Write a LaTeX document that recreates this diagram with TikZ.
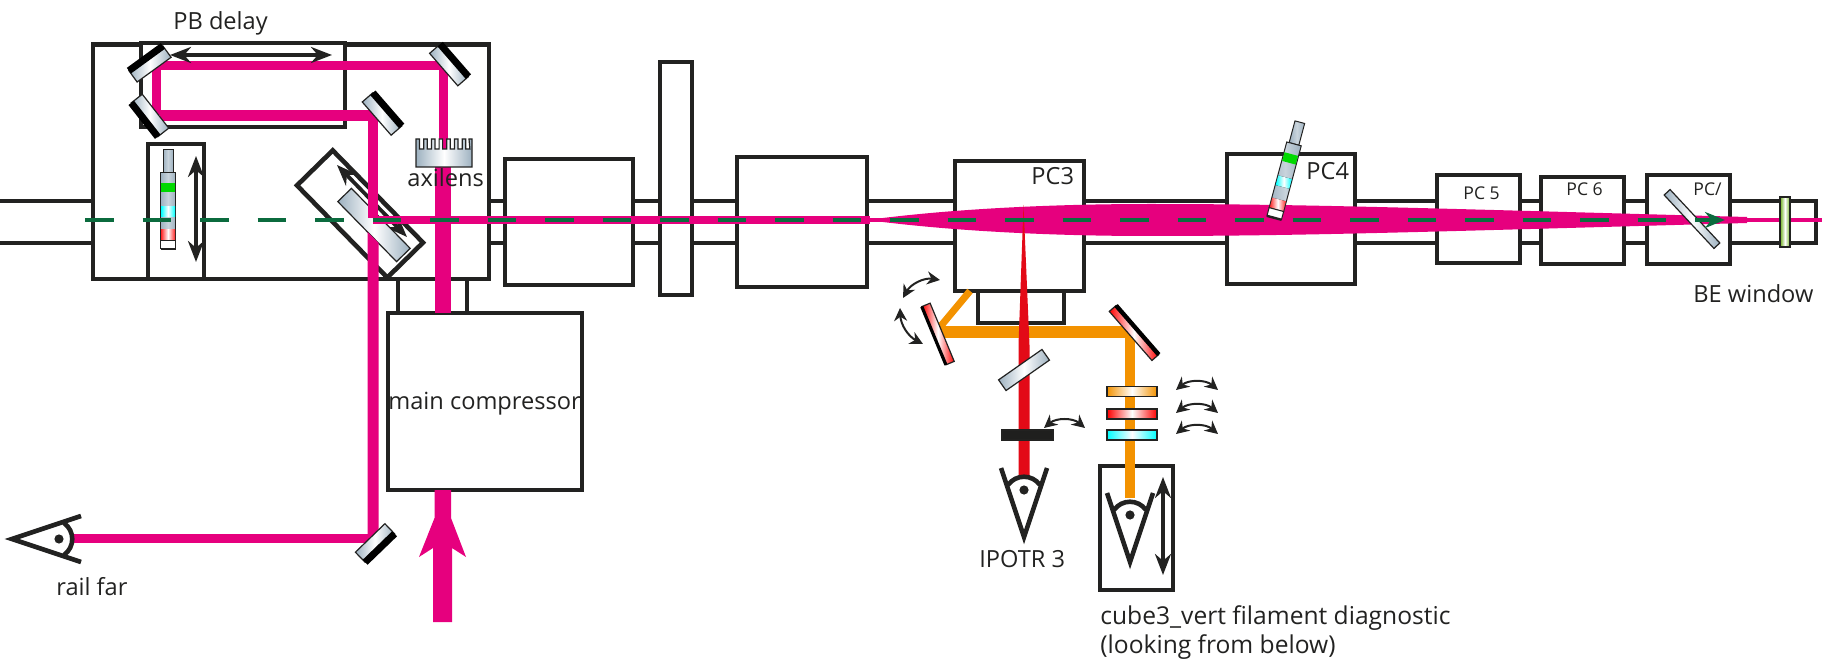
\documentclass[tikz,border=0pt]{standalone}
\usepackage{fontspec}
\setmainfont{Open Sans}
\usetikzlibrary{arrows.meta}
\definecolor{laserpink}{HTML}{E6007E}
\definecolor{laserred}{HTML}{E30A17}
\definecolor{laserorange}{HTML}{F39200}
\definecolor{railgreen}{HTML}{0B6B3E}
\definecolor{steel}{HTML}{9DB1C0}
\definecolor{inkdark}{HTML}{222221}
\definecolor{windowgreen}{HTML}{6FB01E}
\begin{document}
\begin{tikzpicture}[
                x=0.5pt, y=-0.5pt,
                wall/.style={draw=inkdark, line width=2.3pt, line join=miter},
                laser/.style={draw=laserpink, line width=#1},
                lbl/.style={anchor=base west, inner sep=0pt, text=inkdark, font=\fontsize{11.8pt}{15pt}\selectfont},
                smalllbl/.style={lbl, font=\fontsize{8.8pt}{11pt}\selectfont},
                widelbl/.style={lbl, font=\fontsize{12.3pt}{15pt}\selectfont},
                optic/.style={draw=inkdark, line width=0.6pt, inner sep=0pt, outer sep=0pt, left color=#1, right color=#1, middle color=white},
                rodpart/.style={draw=inkdark, line width=0.5pt, left color=#1, right color=#1, middle color=#1!55!white},
                shift arrow/.style={draw=inkdark, line width=1.9pt, {Stealth[length=10.5pt,width=8pt]}-{Stealth[length=10.5pt,width=8pt]}},
                swing/.style={draw=inkdark, line width=1pt, {Stealth[length=6.5pt,width=6.5pt]}-{Stealth[length=6.5pt,width=6.5pt]}},
                rod/.pic={
                    \draw[rodpart=steel] (-5,-49.5) rectangle (5,-27);
                    \draw[rodpart=steel] (-7.5,-27) rectangle (7.5,41);
                    \fill[green!85!black] (-7,-16.5) rectangle (7,-7.5);
                    \fill[left color=cyan, right color=cyan, middle color=white] (-7,7.5) rectangle (7,17.5);
                    \fill[left color=red!85!white, right color=red!85!white, middle color=white] (-7,30.5) rectangle (7,40.5);
                    \draw[rodpart=white] (-7.5,41) rectangle (7.5,49.5);
                    \draw[inkdark, line width=1.2pt] (-7.5,49.5) -- (7.5,49.5);
                },
                eye/.pic={
                    \draw[wall] (-23,-69) -- (0,0) -- (23,-69);
                    \draw[wall] (-16,-52) .. controls (-8,-63) and (8,-63) .. (16,-52);
                    \fill[inkdark] (0,-47) circle (2.3pt);
                }
            ]
            \useasboundingbox (0,0) rectangle (1822,663);
            % pipe
            \draw[wall] (0,201) -- (1816,201) -- (1816,243) -- (0,243);
            % chambers (x1/y1/x2/y2)
            \foreach \xa/\ya/\xb/\yb in {
            398/279/467/320,
            93/44.5/489/279,
            141/43/345/127,
            148/144/204/279,
            388/313/582/490,
            505/159/633/285,
            737/157/867/287,
            660/62/692/295,
            978/291/1064/323,
            955/161/1084/291,
            1227/154/1355/284,
            1437/175/1520/263,
            1541/177/1624/264,
            1647/175/1730/264,
            1100/466/1173/590}
            {
            \draw[wall, fill=white] (\xa,\ya) rectangle (\xb,\yb);
            }
            % beam splitter on its stage
            \node[draw=inkdark, line width=2.3pt, fill=white, minimum width=64.5pt, minimum height=25pt, rotate=-45.6] (stage) at (360,214) {};
            \draw[shift arrow] (337,165) -- (407,237);
            \node[optic=steel, minimum width=42pt, minimum height=9.5pt, rotate=-45.6] (splitter) at (374,225) {};
            % pink beams
            \draw[laser=4.2pt] (156.5,115) -- (156.5,65.5) -- (443.5,65.5) -- (443.5,167);
            \draw[laser=5.4pt] (160,115.5) -- (373,115.5) -- (373,218);
            \fill[laserpink] (367.7,232) -- (378.5,243) -- (378.5,543) -- (367.7,543) -- cycle;
            \draw[laser=4.3pt] (373,538.5) -- (72,538.5);
            \fill[laserpink] (435,167) rectangle (451,313);
            \draw[laser=3.6pt] (373,220) -- (870,220);
            \draw[laser=1.8pt] (870,220) -- (1822,220);
            \fill[laserpink] (867,220) .. controls (950,209) and (1050,204) .. (1150,204) .. controls (1300,204) and (1420,208) .. (1747,217)
                -- (1747,223) .. controls (1420,232) and (1300,236) .. (1150,236) .. controls (1050,236) and (950,231) .. (867,220) -- cycle;
            % incoming pulse
            \fill[laserpink] (433,622) -- (433,548) -- (419,557) -- (434.5,518) -- (434.5,490) -- (451,490) -- (451,518) -- (466,557) -- (452,548) -- (452,622) -- cycle;
            % diagnostic beams
            \draw[draw=laserorange, line width=3.5pt] (970,291) -- (940,327);
            \draw[draw=laserorange, line width=6pt] (940,332) -- (1130,332);
            \draw[draw=laserorange, line width=5.2pt] (1130,327) -- (1130,498);
            \fill[laserred] (1023.5,205) -- (1018.5,345) -- (1018.5,477) -- (1029.5,477) -- (1029.5,345) -- cycle;
            % mirrors (name/x/y/angle/length/width/backing/color)
            \foreach \nm/\x/\y/\ang/\len/\wid/\back/\col in {
            pbtop/150/64/36/42/14/3.5/steel,
            pbbottom/150/115.5/128/43/14/3.5/steel,
            turnright/449/65/-49/43/14/3.5/steel,
            turnleft/382/114/-49/44/14/3.5/steel,
            railmirror/375/543/224/41/14/3.5/steel,
            focusleft/938/334/112.5/63/9/1.6/red,
            focusright/1134/333/-49/65/9/2.2/red}
            {
            \node[optic=\col, minimum width=\len*0.5pt, minimum height=\wid*0.5pt, rotate=\ang] (\nm) at (\x,\y) {};
            \draw[black, line width=\back pt] (\nm.north west) -- (\nm.north east);
            }
            % plain plates (name/x/y/angle/length/width/color)
            \foreach \nm/\x/\y/\ang/\len/\wid/\col in {
            pickoff/1024/370/35/53/13/steel,
            pcseven/1692/219/-47/73/8/steel,
            waveone/1132/391.5/0/50/9.5/laserorange,
            wavetwo/1132/414/0/50/10/red,
            wavethree/1132/435/0/50/10/cyan,
            window/1785/222/90/50/10/windowgreen}
            {
            \node[optic=\col, minimum width=\len*0.5pt, minimum height=\wid*0.5pt, rotate=\ang] (\nm) at (\x,\y) {};
            }
            \node[draw=inkdark, fill=inkdark!90!black, line width=0.6pt, minimum width=25.5pt, minimum height=5pt, inner sep=0pt] (blocker) at (1027.5,435) {};
            % axilens
            \draw[optic=steel] (416,167) \foreach \i in {0,...,6} {
                -- ({416+7.7*\i},139) -- ({419.5+7.7*\i},139) -- ({419.5+7.7*\i},149) -- ({423.7+7.7*\i},149)
                } -- (469,139) -- (472,139) -- (472,167) -- cycle;
            % filters and eyes
            \pic at (168,199.5) {rod};
            \pic[rotate=-15] at (1287,170) {rod};
            \pic at (1024,537) {eye};
            \pic at (1130,562) {eye};
            \pic[rotate=-90] at (12,539) {eye};
            % centre line
            \draw[draw=railgreen, line width=2pt, dash pattern=on 14.25pt off 14.5pt, -{Stealth[length=10pt,width=8pt]}] (85,220) -- (1725,220);
            % travel arrows
            \draw[shift arrow] (170,55) -- (332,55);
            \draw[shift arrow] (196,156) -- (196,262);
            \draw[shift arrow] (1163,477) -- (1163,575);
            % tilt arrows
            \draw[swing] (940,280) to[bend right=35] (903,298);
            \draw[swing] (900,308) to[bend right=30] (923,344);
            \draw[swing] (1044,428) to[bend left=40] (1085,428);
            \foreach \y in {390,413,434}
            {
            \draw[swing] (1176,\y) to[bend left=40] (1218,\y);
            }
            % labels (name/x/y/text)
            \foreach \nm/\x/\y/\txt in {
            pblabel/173/30/{PB delay},
            axilabel/407/187/{axilens},
            mainlabel/388/409/{main compressor},
            pcthree/1031/185/{PC3},
            pcfour/1306/180/{PC4},
            belabel/1693/303/{BE window},
            raillabel/56/595/{rail far},
            ipotrlabel/979/567/{IPOTR 3}}
            {
            \node[lbl] (\nm) at (\x,\y) {\txt};
            }
            \node[widelbl] (cubelabel) at (1100,624) {cube3\_vert filament diagnostic};
            \node[widelbl] (belowlabel) at (1100,653) {(looking from below)};
            \foreach \nm/\x/\y/\txt in {
            pcfive/1463/200/{PC 5},
            pcsix/1566/196/{PC 6},
            pcslash/1693/196/{PC/}}
            {
            \node[smalllbl] (\nm) at (\x,\y) {\txt};
            }
        \end{tikzpicture}
\end{document}
